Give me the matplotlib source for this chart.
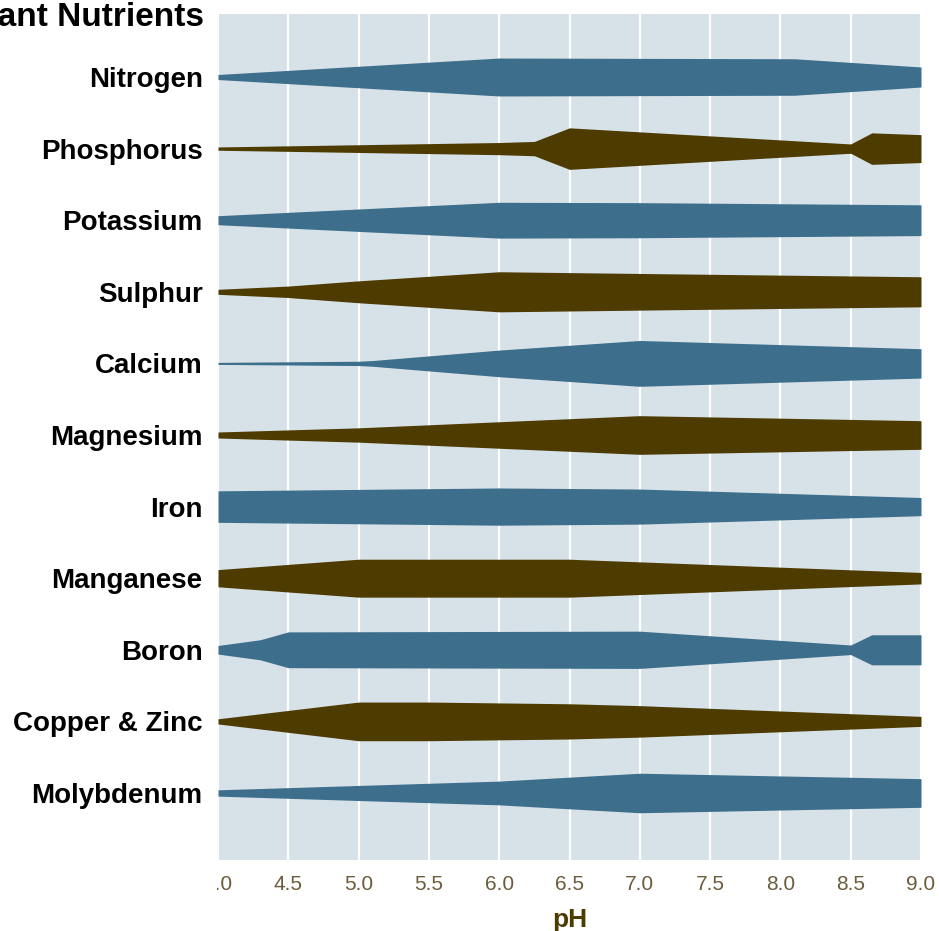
import numpy as np
import matplotlib.pyplot as plt
from matplotlib.patches import Rectangle

# nutrients from top to bottom
nutrients = ['Nitrogen', 'Phosphorus', 'Potassium', 'Sulphur', 'Calcium',
             'Magnesium', 'Iron', 'Manganese', 'Boron', 'Copper & Zinc',
             'Molybdenum']

# availability profile: pH breakpoints and half band width (fraction of row)
nitrogen_ph = [4.0, 6.0, 8.1, 9.0]
nitrogen_w = [0.035, 0.265, 0.255, 0.14]
phosphorus_ph = [4.0, 6.0, 6.25, 6.5, 8.5, 8.65, 9.0]
phosphorus_w = [0.023, 0.085, 0.10, 0.29, 0.065, 0.22, 0.195]
potassium_ph = [4.0, 6.0, 7.0, 9.0]
potassium_w = [0.063, 0.25, 0.245, 0.215]
sulphur_ph = [4.0, 4.5, 5.0, 6.0, 7.0, 9.0]
sulphur_w = [0.035, 0.08, 0.153, 0.28, 0.256, 0.21]
calcium_ph = [4.0, 5.0, 5.1, 6.0, 7.0, 9.0]
calcium_w = [0.014, 0.03, 0.04, 0.186, 0.32, 0.205]
magnesium_ph = [4.0, 5.0, 7.0, 9.0]
magnesium_w = [0.042, 0.10, 0.27, 0.20]
iron_ph = [4.0, 4.5, 6.0, 7.0, 9.0]
iron_w = [0.22, 0.23, 0.26, 0.245, 0.127]
manganese_ph = [4.0, 5.0, 6.5, 9.0]
manganese_w = [0.12, 0.265, 0.265, 0.08]
boron_ph = [4.0, 4.3, 4.5, 7.0, 8.5, 8.65, 9.0]
boron_w = [0.06, 0.14, 0.25, 0.26, 0.067, 0.21, 0.21]
copper_ph = [4.0, 5.0, 5.5, 6.5, 7.0, 9.0]
copper_w = [0.036, 0.27, 0.27, 0.246, 0.22, 0.07]
molybdenum_ph = [4.0, 6.0, 7.0, 9.0]
molybdenum_w = [0.044, 0.166, 0.276, 0.2]

profiles = [(nitrogen_ph, nitrogen_w), (phosphorus_ph, phosphorus_w),
            (potassium_ph, potassium_w), (sulphur_ph, sulphur_w),
            (calcium_ph, calcium_w), (magnesium_ph, magnesium_w),
            (iron_ph, iron_w), (manganese_ph, manganese_w),
            (boron_ph, boron_w), (copper_ph, copper_w),
            (molybdenum_ph, molybdenum_w)]

ph_ticks = [4.0, 4.5, 5.0, 5.5, 6.0, 6.5, 7.0, 7.5, 8.0, 8.5, 9.0]

blue = '#3d6e8c'
brown = '#4d3b00'
panel_bg = '#d7e1e8'
tick_col = '#6b5c3b'

plt.rcParams['font.family'] = ['Liberation Sans', 'DejaVu Sans']

W, H = 939, 931
fig = plt.figure(figsize=(W / 100, H / 100), dpi=100)
ax = fig.add_axes([218 / W, 1 - 860 / H, (921 - 218) / W, (860 - 14) / H])
ax.set_facecolor(panel_bg)

for i, (ph, w) in enumerate(profiles):
    ph = np.array(ph)
    w = np.array(w)
    col = blue if i % 2 == 0 else brown
    ax.fill_between(ph, i - w, i + w, color=col, lw=0, zorder=3)

# vertical white grid
for x in ph_ticks:
    ax.axvline(x, color='white', lw=1.6, zorder=1)

ax.set_xlim(4.0, 9.0)
ax.set_ylim(10.936, -0.88)
ax.set_xticks(ph_ticks)
ax.set_xticklabels(['%.1f' % v for v in ph_ticks], fontsize=15, color=tick_col)
ax.set_yticks(range(len(nutrients)))
ax.set_yticklabels(nutrients, fontsize=20, fontweight='bold', color='black')
ax.tick_params(axis='both', length=0)
ax.tick_params(axis='y', pad=11)
ax.tick_params(axis='x', pad=11)
for s in ax.spines.values():
    s.set_visible(False)

ax.set_xlabel('pH', fontsize=19, fontweight='bold', color=brown, labelpad=10)

# title (cut off at the left edge as in the original)
fig.text(204 / W, 1 - 17 / H, 'Plant Nutrients', ha='right', va='center',
         fontsize=24, fontweight='bold', color='black')

# white mask over the left part of the first tick label
fig.patches.append(Rectangle((0, 0), 217 / W, 1 - 862 / H,
                             transform=fig.transFigure, facecolor='white',
                             edgecolor='none', zorder=10))

fig.savefig('out.png', dpi=100)
